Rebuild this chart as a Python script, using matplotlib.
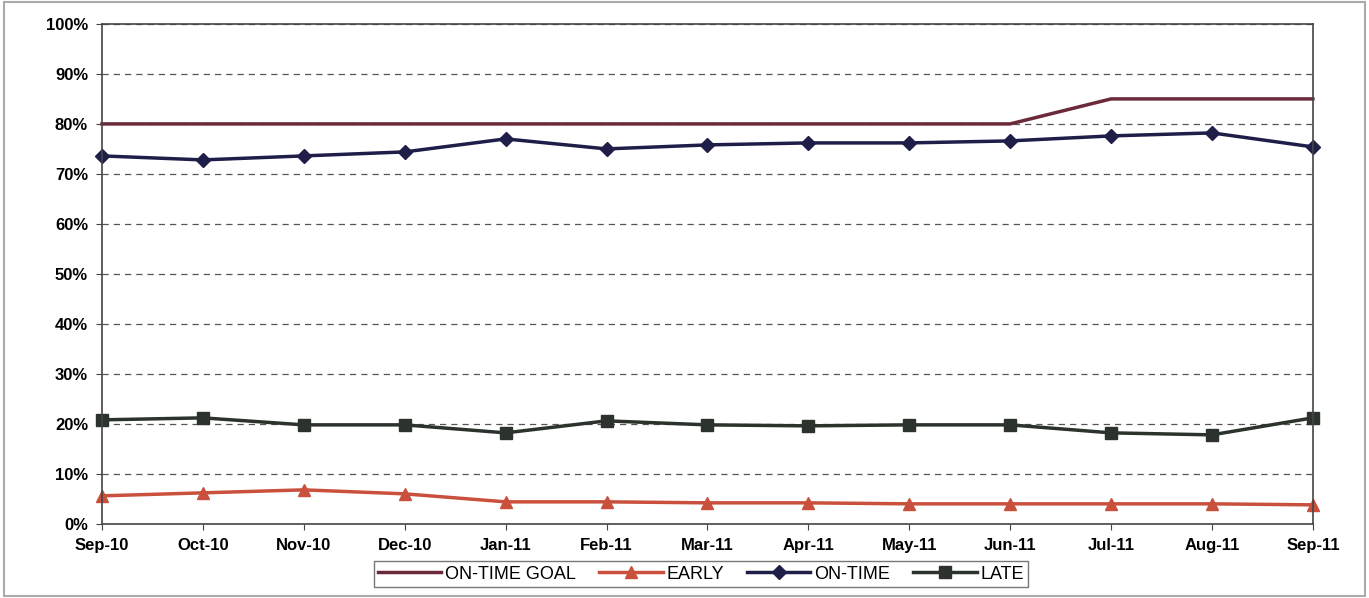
import numpy as np
import matplotlib.pyplot as plt
from matplotlib.ticker import PercentFormatter

# dados
meses = ['Sep-10', 'Oct-10', 'Nov-10', 'Dec-10', 'Jan-11', 'Feb-11', 'Mar-11',
         'Apr-11', 'May-11', 'Jun-11', 'Jul-11', 'Aug-11', 'Sep-11']
meta = [80, 80, 80, 80, 80, 80, 80, 80, 80, 80, 85, 85, 85]
cedo = [5.6, 6.2, 6.8, 6.0, 4.4, 4.4, 4.2, 4.2, 4.0, 4.0, 4.0, 4.0, 3.8]
no_prazo = [73.6, 72.8, 73.6, 74.4, 77.0, 75.0, 75.8, 76.2, 76.2, 76.6, 77.6, 78.2, 75.4]
atrasado = [20.8, 21.2, 19.8, 19.8, 18.2, 20.6, 19.8, 19.6, 19.8, 19.8, 18.2, 17.8, 21.2]

plt.rcParams['font.family'] = ['Liberation Sans', 'DejaVu Sans']

fig = plt.figure(figsize=(13.69, 5.98), dpi=100)
ax = fig.add_axes([0.0745, 0.124, 0.8845, 0.836])
x = np.arange(len(meses))

ax.plot(x, meta, color='#6a2a3a', lw=2.5, label='ON-TIME GOAL', clip_on=False)
ax.plot(x, cedo, color='#c9503c', lw=2.5, marker='^', ms=8, label='EARLY', clip_on=False)
ax.plot(x, no_prazo, color='#1e1e48', lw=2.5, marker='D', ms=7, label='ON-TIME', clip_on=False)
ax.plot(x, atrasado, color='#2c332c', lw=2.5, marker='s', ms=9, label='LATE', clip_on=False)

ax.set_xlim(0, len(meses) - 1)
ax.set_ylim(0, 100)
ax.set_yticks(np.arange(0, 101, 10))
ax.yaxis.set_major_formatter(PercentFormatter(decimals=0))
ax.set_xticks(x)
ax.set_xticklabels(meses)
for lbl in ax.get_xticklabels() + ax.get_yticklabels():
    lbl.set_fontweight('bold')
    lbl.set_fontsize(12)
ax.tick_params(direction='out', length=4, color='#444444', pad=6)
ax.grid(axis='y', ls=(0, (5, 4)), color='#555555', lw=0.9)
for s in ax.spines.values():
    s.set_color('#444444')
    s.set_linewidth(1.2)

leg = fig.legend(loc='lower center', bbox_to_anchor=(0.512, 0.003), ncol=4,
                 frameon=True, fancybox=False, edgecolor='#555555',
                 fontsize=13, handlelength=3.5, handletextpad=0.2,
                 columnspacing=1.3, borderpad=0.25)

# borda externa
fig.patches.append(plt.Rectangle((0.003, 0.003), 0.994, 0.994, transform=fig.transFigure,
                                 fill=False, edgecolor='#aaaaaa', lw=1.5))

fig.savefig('out.png', dpi=100)
